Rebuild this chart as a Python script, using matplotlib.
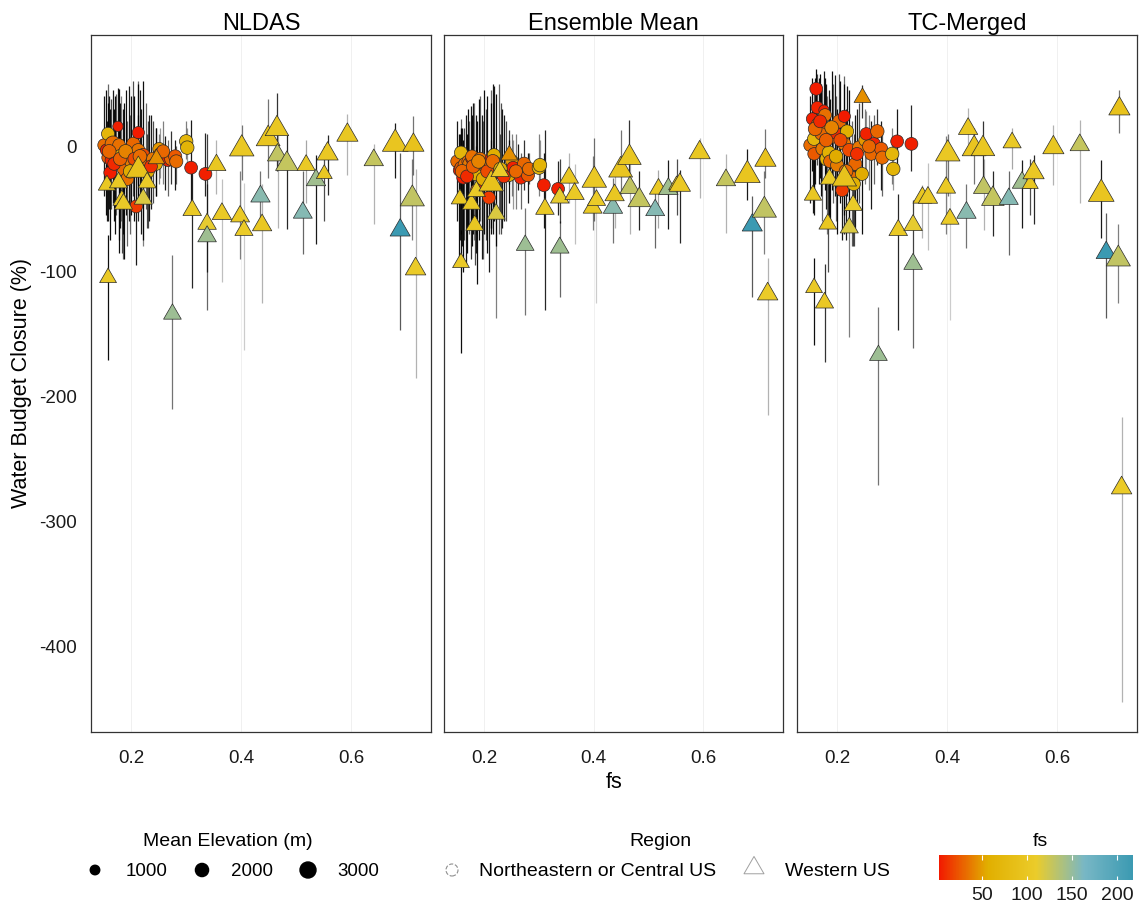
import numpy as np
import matplotlib
matplotlib.use("Agg")
import matplotlib.pyplot as plt
from matplotlib.path import Path
from matplotlib.colors import LinearSegmentedColormap, Normalize
import matplotlib.colorbar as mcolorbar

plt.rcParams["font.family"] = ["Liberation Sans", "DejaVu Sans"]

# ---- Western US basins (triangles) ----
tri_fs = [0.158, 0.156, 0.177, 0.183, 0.186, 0.213, 0.229, 0.222, 0.246, 0.275, 0.311, 0.338,
          0.338, 0.355, 0.365, 0.398, 0.401, 0.405, 0.435, 0.438, 0.449, 0.465, 0.466, 0.483,
          0.518, 0.512, 0.536, 0.551, 0.557, 0.593, 0.641, 0.680, 0.713, 0.689, 0.711, 0.717]
tri_colour = [105, 100, 103, 100, 106, 92, 108, 118, 45, 147, 104, 112,
              146, 100, 104, 104, 102, 108, 156, 100, 98, 100, 130, 128,
              104, 158, 145, 100, 102, 100, 128, 98, 92, 218, 130, 108]
tri_elev = [1800, 1900, 2100, 2000, 2100, 3900, 2100, 2100, 1800, 2000, 2200, 2200,
            2200, 2300, 2400, 2300, 3900, 2100, 2400, 2400, 3700, 3600, 2600, 3300,
            2100, 2300, 2400, 1600, 2900, 2900, 2400, 4300, 2900, 2600, 3800, 2700]
tri_alpha = [0.95, 0.9, 0.8, 0.7, 0.6, 0.85, 0.7, 0.5, 0.8, 0.55, 0.85, 0.75,
             0.6, 0.3, 0.25, 0.5, 0.55, 0.2, 0.55, 0.3, 0.55, 0.8, 0.3, 0.85,
             0.35, 0.6, 0.9, 0.7, 0.85, 0.3, 0.3, 0.9, 0.55, 0.65, 0.5, 0.3]

tri_nldas = [-105, -31, -29, -43, -46, -19, -29, -42, -10, -134, -51, -62,
             -72, -15, -54, -56, -2, -67, -40, -63, 6, 14, -7, -14,
             -15, -53, -27, -22, -6, 9, -11, 2, 1, -67, -42, -98]
tri_nldas_lo = [-171, -60, -75, -85, -90, -60, -65, -80, -40, -210, -113, -100,
                -131, -38, -108, -90, -27, -163, -65, -125, -25, -20, -65, -66,
                -45, -86, -78, -60, -39, -23, -62, -25, -23, -147, -75, -185]
tri_nldas_hi = [-71, 20, 15, 0, 5, 25, 10, -5, 15, -87, -15, 10,
                -30, 5, -26, -20, 17, -29, -20, -30, 38, 43, 10, 10,
                5, -20, -7, 0, 9, 26, 2, 19, 24, -5, -10, -18]

tri_ens = [-93, -42, -46, -63, -36, -30, -20, -54, -7, -79, -50, -41,
           -81, -25, -38, -49, -27, -43, -49, -39, -19, -9, -33, -43,
           -34, -51, -34, -31, -31, -5, -27, -23, -11, -63, -51, -118]
tri_ens_lo = [-165, -75, -90, -95, -70, -65, -55, -137, -30, -135, -131, -61,
              -120, -45, -78, -67, -60, -125, -77, -65, -38, -30, -70, -67,
              -65, -81, -66, -55, -77, -41, -69, -43, -25, -120, -86, -215]
tri_ens_hi = [-67, 10, -10, -30, 0, 5, 10, -20, 13, -49, 13, -10,
              -60, -5, -14, -8, 7, -20, -25, -15, 13, 21, -10, -20,
              -19, -30, -11, -10, -19, 7, -6, -2, 14, -40, -20, -89]

tri_tc = [-113, -39, -125, -62, -26, -26, -47, -65, 39, -167, -67, -63,
          -94, -41, -41, -33, -6, -58, -53, 14, -2, -2, -33, -42,
          3, -42, -29, -30, -21, -1, 1, -38, 30, -85, -90, -273]
tri_tc_lo = [-159, -53, -172, -100, -60, -70, -80, -152, 23, -271, -147, -90,
             -161, -73, -83, -70, -40, -139, -81, 2, -30, -25, -67, -72,
             -18, -87, -65, -55, -62, -31, -45, -73, 11, -137, -125, -444]
tri_tc_hi = [-89, -10, -94, -30, 5, 10, -10, -40, 49, -128, -38, -43,
             -94, -31, -13, 8, 10, -33, -30, 31, 15, 20, -10, -20,
             15, -20, -11, -10, -7, 17, 21, -11, 45, -53, -62, -216]

# ---- Northeastern / Central US basins (circles) ----
ne_fs = [0.151, 0.155, 0.158, 0.158, 0.162, 0.164, 0.167, 0.171, 0.173, 0.176, 0.178, 0.182,
         0.185, 0.187, 0.193, 0.196, 0.200, 0.204, 0.209, 0.213, 0.213, 0.218, 0.222, 0.227,
         0.233, 0.240, 0.245, 0.251, 0.253, 0.262, 0.267, 0.273, 0.280, 0.282, 0.300, 0.302,
         0.309, 0.335, 0.160, 0.169, 0.180, 0.190, 0.198, 0.206, 0.216, 0.230, 0.236, 0.258]
ne_colour = [32, 4, 70, 25, 3, 6, 33, 30, 36, 4, 34, 62,
             60, 30, 34, 8, 38, 30, 14, 2, 35, 58, 20, 32,
             30, 36, 55, 48, 5, 30, 6, 30, 25, 32, 70, 66,
             4, 4, 30, 8, 28, 40, 55, 20, 32, 60, 10, 30]
ne_elev = [1900, 1700, 2000, 1800, 1900, 1800, 2900, 1800, 1900, 1200, 1900, 2500,
           2100, 1900, 2000, 1800, 2000, 2100, 1900, 1700, 2000, 2000, 2100, 1900,
           2000, 2100, 2000, 1900, 1800, 1900, 1900, 2100, 2000, 2000, 2100, 2100,
           1900, 1900, 2200, 1900, 2100, 2200, 2100, 2000, 2200, 2100, 1900, 2000]
ne_alpha = [0.9, 0.95, 0.6, 0.9, 0.95, 0.7, 0.9, 0.95, 0.6, 0.9, 0.95, 0.5,
            0.9, 0.95, 0.6, 0.9, 0.95, 0.7, 0.9, 0.6, 0.95, 0.9, 0.95, 0.6,
            0.9, 0.7, 0.95, 0.5, 0.4, 0.9, 0.6, 0.8, 0.9, 0.6, 0.5, 0.4,
            0.9, 0.85, 0.9, 0.95, 0.9, 0.95, 0.6, 0.95, 0.9, 0.7, 0.9, 0.5]

ne_nldas = [1, -3, 10, -9, -21, -11, 2, -5, -7, 16, 1, -8,
            -15, -19, -26, -7, -12, 2, -48, 11, -3, -17, -7, -12,
            -14, -10, -14, -2, -6, -9, -11, -10, -8, -12, 4, -1,
            -17, -22, -4, -14, -10, -4, -20, -10, -8, -20, -16, -4]
ne_nldas_lo = [-40, -55, -30, -60, -75, -50, -45, -70, -55, -30, -85, -60,
               -70, -90, -80, -60, -55, -40, -95, -30, -50, -70, -75, -50,
               -60, -45, -40, -30, -25, -35, -40, -30, -35, -30, -10, -15,
               -55, -40, -50, -60, -65, -55, -70, -60, -50, -65, -50, -30]
ne_nldas_hi = [40, 45, 50, 35, 30, 38, 45, 40, 42, 47, 46, 40,
               30, 35, 20, 48, 40, 52, -20, 52, 50, 30, 52, 35,
               25, 20, 15, 10, 15, 8, 5, 12, 5, 0, 20, 15,
               21, 11, 40, 30, 35, 45, 25, 40, 45, 20, 25, 20]

ne_ens = [-12, -19, -5, -17, -25, -21, -15, -12, -14, -10, -8, -18,
          -22, -35, -10, -30, -15, -15, -41, -10, -15, -7, -19, -20,
          -22, -22, -23, -12, -17, -20, -25, -14, -23, -18, -17, -15,
          -31, -34, -20, -24, -16, -12, -26, -20, -12, -18, -24, -20]
ne_ens_lo = [-60, -90, -50, -70, -100, -75, -95, -65, -70, -60, -80, -75,
             -85, -110, -60, -90, -70, -75, -100, -65, -70, -60, -80, -70,
             -65, -60, -45, -40, -50, -35, -50, -35, -45, -30, -40, -30,
             -65, -55, -80, -85, -70, -75, -90, -85, -70, -70, -60, -50]
ne_ens_hi = [20, 10, 22, 15, 5, 15, 25, 30, 20, 32, 25, 35,
             25, 20, 40, 25, 45, 30, -10, 45, 35, 48, 42, 50,
             30, 20, 5, 10, 5, 2, -5, 5, -5, -5, 10, 5,
             -5, -12, 15, 10, 35, 38, 20, 40, 50, 35, 25, 10]

ne_tc = [1, 22, 6, -6, 46, 31, 17, 10, -2, 29, 25, -10,
         -5, -12, 8, 11, -15, 20, -35, 24, 2, 12, -3, -25,
         -14, -1, -22, 5, 10, -6, 2, 12, -2, -9, -6, -18,
         4, 2, 14, 20, 5, 15, -8, 5, -20, -30, -6, 0]
ne_tc_lo = [-45, -20, -40, -55, 10, -15, -30, -40, -60, -10, -35, -70,
            -55, -65, -45, -40, -70, -30, -75, -20, -55, -40, -60, -80,
            -65, -45, -70, -30, -20, -50, -30, -15, -35, -40, -30, -35,
            -15, -20, -30, -25, -50, -35, -60, -45, -75, -80, -45, -35]
ne_tc_hi = [40, 55, 45, 35, 62, 58, 55, 50, 45, 60, 55, 40,
            45, 38, 50, 57, 30, 58, -5, 56, 50, 48, 45, 20,
            25, 35, 10, 30, 28, 20, 25, 30, 20, 10, 15, 0,
            30, 33, 55, 58, 50, 60, 40, 52, 30, 10, 30, 25]

panel_names = ["NLDAS", "Ensemble Mean", "TC-Merged"]
x_ticks = [0.2, 0.4, 0.6]
y_ticks = [0, -100, -200, -300, -400]
legend_elev = [1000, 2000, 3000]
cbar_ticks = [50, 100, 150, 200]

W, H = 1139, 907
fig = plt.figure(figsize=(W / 100, H / 100), dpi=100)


def box(x0, y0, x1, y1):
    return [x0 / W, 1 - y1 / H, (x1 - x0) / W, (y1 - y0) / H]


def elev_px(elev):
    return np.sqrt(7 + 0.083 * np.asarray(elev, dtype=float))


PX2PT = 72 / 100
# equal-area triangle, centred on its centroid
tri_marker = Path([(0, 1.555), (1.347, -0.778), (-1.347, -0.778), (0, 1.555)],
                  [Path.MOVETO, Path.LINETO, Path.LINETO, Path.CLOSEPOLY])


def circle_s(elev):
    return (elev_px(elev) * PX2PT) ** 2


def tri_s(elev):
    return (1.347 * elev_px(elev) * PX2PT / 0.866) ** 2


cmap = LinearSegmentedColormap.from_list(
    "zissou_rev", ["#F21A00", "#E1AF00", "#EBCC2A", "#78B7C5", "#3B9AB2"])
norm = Normalize(min(ne_colour + tri_colour), max(ne_colour + tri_colour))

panels = [
    (tri_nldas, tri_nldas_lo, tri_nldas_hi, ne_nldas, ne_nldas_lo, ne_nldas_hi),
    (tri_ens, tri_ens_lo, tri_ens_hi, ne_ens, ne_ens_lo, ne_ens_hi),
    (tri_tc, tri_tc_lo, tri_tc_hi, ne_tc, ne_tc_lo, ne_tc_hi),
]
panel_boxes = [(91, 35, 431, 732), (444, 35, 783, 732), (797, 35, 1137, 732)]

for i, (name, data, pb) in enumerate(zip(panel_names, panels, panel_boxes)):
    t_y, t_lo, t_hi, c_y, c_lo, c_hi = data
    ax = fig.add_axes(box(*pb))
    ax.set_xlim(0.127, 0.745)
    ax.set_ylim(-468, 89)
    for xt in x_ticks:
        ax.axvline(xt, color="#eeeeee", lw=0.6, zorder=0)

    ax.vlines(ne_fs, c_lo, c_hi, colors=[(0, 0, 0, a) for a in ne_alpha], lw=0.9, zorder=1)
    ax.vlines(tri_fs, t_lo, t_hi, colors=[(0, 0, 0, a) for a in tri_alpha], lw=0.9, zorder=1)

    ax.scatter(ne_fs, c_y, s=circle_s(ne_elev), c=ne_colour, cmap=cmap, norm=norm,
               marker="o", edgecolors="#2a2a2a", linewidths=0.5, zorder=3)
    ax.scatter(tri_fs, t_y, s=tri_s(tri_elev), c=tri_colour, cmap=cmap, norm=norm,
               marker=tri_marker, edgecolors="#2a2a2a", linewidths=0.5, zorder=4)

    ax.set_title(name, fontsize=17, pad=3.5)
    ax.set_xticks(x_ticks)
    ax.set_xticklabels([f"{v:.1f}" for v in x_ticks])
    ax.set_yticks(y_ticks)
    if i == 0:
        ax.set_yticklabels([str(v) for v in y_ticks])
    else:
        ax.set_yticklabels([])
    ax.tick_params(length=0, labelsize=13.5, labelcolor="#1a1a1a")
    ax.tick_params(axis="x", pad=13)
    ax.tick_params(axis="y", pad=10)
    for sp in ax.spines.values():
        sp.set_color("#333333")
        sp.set_linewidth(0.9)

fig.text(22 / W, 1 - 383 / H, "Water Budget Closure (%)", rotation=90,
         ha="center", va="center", fontsize=15.5)
fig.text(614 / W, 1 - 782 / H, "fs", ha="center", va="center", fontsize=15.5)

# ---- legends along the bottom ----
leg = fig.add_axes([0, 0, 1, 1])
leg.set_xlim(0, W)
leg.set_ylim(H, 0)
leg.axis("off")

leg.text(228, 841, "Mean Elevation (m)", ha="center", va="center", fontsize=14)
leg.scatter([95, 202, 308], [870] * 3, s=circle_s(legend_elev), color="black")
for xl, v in zip([147, 252, 358], legend_elev):
    leg.text(xl, 871, str(v), ha="center", va="center", fontsize=13.5)

leg.text(660, 841, "Region", ha="center", va="center", fontsize=14)
leg.scatter([452], [870], s=(12 * PX2PT) ** 2, facecolors="none", edgecolors="#8f8f8f",
            linewidths=0.8, linestyles="--")
leg.text(479, 871, "Northeastern or Central US", ha="left", va="center", fontsize=14)
leg.scatter([754], [868], s=(20 * PX2PT / 0.866) ** 2, marker=tri_marker,
            facecolors="none", edgecolors="#a0a0a0", linewidths=0.7)
leg.text(785, 871, "Western US", ha="left", va="center", fontsize=14)

leg.text(1040, 841, "fs", ha="center", va="center", fontsize=14)
cax = fig.add_axes(box(939, 855, 1133, 880))
cb = mcolorbar.ColorbarBase(cax, cmap=cmap, norm=norm, orientation="horizontal")
cb.outline.set_visible(False)
cb.set_ticks(cbar_ticks)
cb.set_ticklabels([str(v) for v in cbar_ticks])
cax.tick_params(length=0, labelsize=14, pad=5, labelcolor="#1a1a1a")
cax.vlines(cbar_ticks, 0, 0.18, colors="white", lw=0.8)
cax.vlines(cbar_ticks, 0.82, 1, colors="white", lw=0.8)

fig.savefig("out.png", dpi=100)
